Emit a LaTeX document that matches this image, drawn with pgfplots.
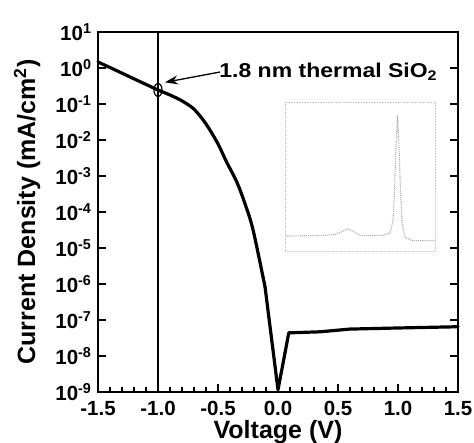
\documentclass[border=0pt]{standalone}
\usepackage{fontspec}
\setmainfont{Liberation Sans}
\usepackage{graphicx}
\usepackage{pgfplots}
\pgfplotsset{compat=1.18}
\usetikzlibrary{arrows.meta}

\begin{document}
\begin{tikzpicture}
\useasboundingbox (-98bp,-51bp) rectangle (376bp,392bp);
\begin{axis}[
  width=360bp, height=360bp, scale only axis,
  xmin=-1.5, xmax=1.5, ymode=log, ymin=1e-9, ymax=10,
  axis line style={line width=1.8bp},
  xtick={-1.5,-1,-0.5,0,0.5,1,1.5},
  xticklabels={-1.5,-1.0,-0.5,0.0,0.5,1.0,1.5},
  minor x tick num=4,
  ytick={1e-9,1e-8,1e-7,1e-6,1e-5,1e-4,1e-3,1e-2,1e-1,1,10},
  yticklabels={10\textsuperscript{-9},10\textsuperscript{-8},10\textsuperscript{-7},10\textsuperscript{-6},10\textsuperscript{-5},10\textsuperscript{-4},10\textsuperscript{-3},10\textsuperscript{-2},10\textsuperscript{-1},10\textsuperscript{0},10\textsuperscript{1}},
  yminorticks=false,
  xtick pos=left, ytick pos=both,
  tick align=inside,
  major tick length=8bp, minor tick length=5bp,
  every tick/.style={line width=1.3bp, black},
  ticklabel style={font=\fontsize{20.5bp}{22bp}\selectfont\bfseries},
  xticklabel style={yshift=-6bp},
  yticklabel style={xshift=-3bp},
  xlabel={Voltage (V)},
  ylabel={Current Density (mA/cm\textsuperscript{2})},
  label style={font=\fontsize{25bp}{27bp}\selectfont\bfseries},
  xlabel style={at={(axis description cs:0.5,0)}, anchor=center, yshift=-40bp},
  ylabel style={at={(axis description cs:0,0.5)}, anchor=center, yshift=71bp},
  clip=false,
]
\addplot[black, line width=1.3bp] coordinates {(-1,1e-9) (-1,10)};
\addplot[black, line width=3.2bp, smooth, tension=0.5, line cap=round] coordinates {
(-1.5,1.47) (-1.4,1.03) (-1.3,0.72) (-1.2,0.50) (-1.1,0.35) (-1.0,0.245)
(-0.9,0.178) (-0.8,0.122) (-0.7,0.072) (-0.6,0.028) (-0.5,0.0078)
(-0.43,0.0025) (-0.344,0.00069) (-0.275,1.7e-4) (-0.208,3.2e-5) (-0.108,8.3e-7)};
\addplot[black, line width=3.2bp, line join=round, line cap=round] coordinates {
(-0.108,8.3e-7) (0.0,1.15e-9) (0.09,4.4e-8)
(0.35,4.7e-8) (0.6,5.6e-8) (1.0,6.0e-8) (1.5,6.5e-8)};
\addplot[only marks, mark=o, mark size=6.5bp, mark options={xscale=0.62, line width=1.2bp, black}] coordinates {(-1,0.245)};
\draw[-{Stealth[length=13bp,width=9bp]}, line width=1.3bp] (axis cs:-0.483,0.774) -- (axis cs:-0.942,0.40);
\node[anchor=west, inner sep=0pt, font=\fontsize{20bp}{22bp}\selectfont\bfseries] at (axis cs:-0.49,0.774) {\scalebox{1.15}[1]{1.8 nm thermal SiO\textsubscript{2}}};
\end{axis}
\begin{axis}[
  at={(187bp,141bp)}, anchor=south west,
  width=150bp, height=149bp, scale only axis,
  xmin=0, xmax=100, ymin=0, ymax=100,
  axis line style={gray!45, densely dotted, line width=0.6bp},
  ticks=none,
]
\addplot[gray!65, densely dotted, line width=1.1bp] coordinates {
(0,10) (25,10.5) (33,11) (38,13) (42,15) (46,13) (50,10.5) (65,10.5)
(70,12) (72,20) (73,40) (74,70) (75,91) (76,70) (77,40) (78,20) (80,9)
(85,7) (100,7)};
\end{axis}
\end{tikzpicture}
\end{document}
